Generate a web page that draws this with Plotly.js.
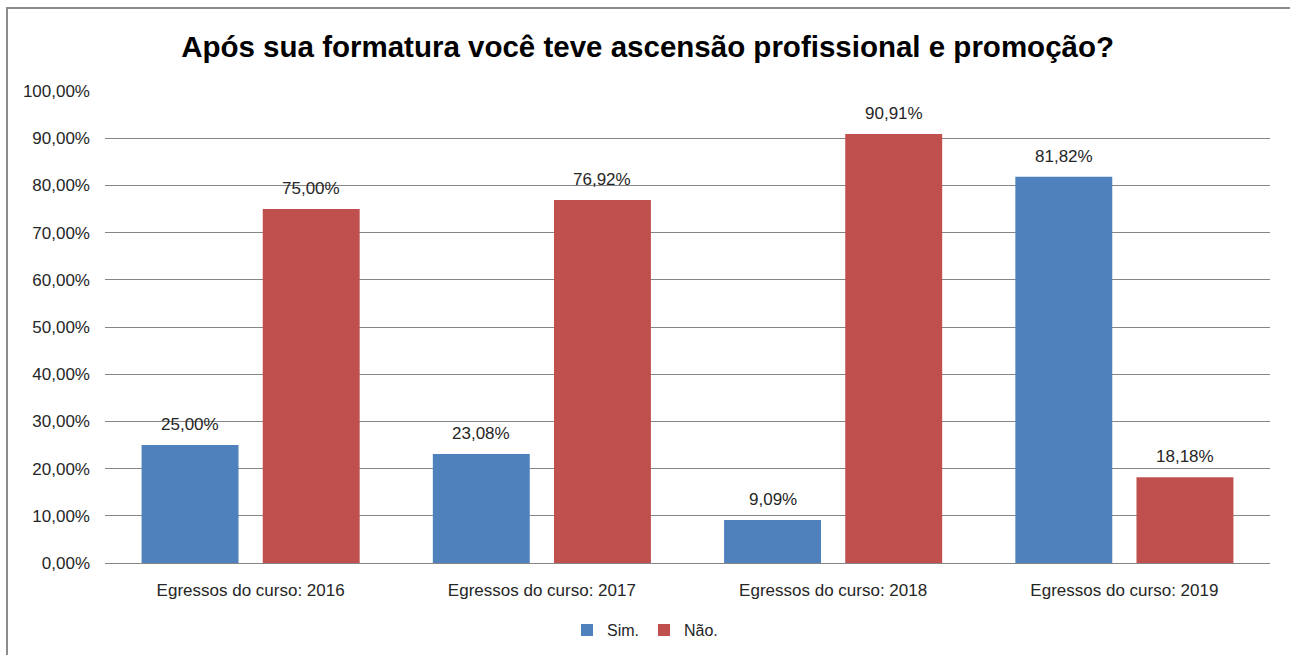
<!DOCTYPE html>
<html>
<head>
<meta charset="utf-8">
<script src="https://cdn.plot.ly/plotly-3.0.1.min.js"></script>
<style>
html,body{margin:0;padding:0;background:#fff;}
#wrap{position:relative;width:1290px;height:655px;overflow:hidden;}
#chart{position:absolute;left:0;top:0;width:1290px;height:655px;}
#frame{position:absolute;left:6px;top:7px;width:1300px;height:700px;border-left:2px solid #8c8c8c;border-top:2px solid #8c8c8c;pointer-events:none;}
</style>
</head>
<body>
<div id="wrap"><div id="chart"></div><div id="frame"></div></div>
<script>
const categories = ["Egressos do curso: 2016","Egressos do curso: 2017","Egressos do curso: 2018","Egressos do curso: 2019"];
const simValues = [0.25, 0.2308, 0.0909, 0.8182];
const naoValues = [0.75, 0.7692, 0.9091, 0.1818];
const seriesNames = ["Sim.", "Não."];
const yTicks = [0,0.1,0.2,0.3,0.4,0.5,0.6,0.7,0.8,0.9,1.0];

const FONT = "Liberation Sans, Arial, sans-serif";
const bargap = 0.168;
const groupgap = 0.2;

const traces = [
  {type:'bar', name:seriesNames[0], x:categories, y:simValues, marker:{color:'#4F81BD'}, hoverinfo:'y'},
  {type:'bar', name:seriesNames[1], x:categories, y:naoValues, marker:{color:'#C0504D'}, hoverinfo:'y'}
];

const off = (1-bargap)/4;
const annotations = [];
[simValues, naoValues].forEach((vals, s) => {
  vals.forEach((v, i) => {
    annotations.push({
      xref:'x', yref:'y', x: i + (s===0 ? -off : off), y: v,
      text: (v*100).toFixed(2).replace('.', ',') + '%',
      showarrow:false, yanchor:'bottom', yshift:9,
      font:{family:FONT, size:17, color:'#262626'}
    });
  });
});

const layout = {
  width:1290, height:655,
  margin:{l:105, r:20, t:91, b:92},
  paper_bgcolor:'#ffffff', plot_bgcolor:'#ffffff',
  separators:',.',
  barmode:'group', bargap:bargap, bargroupgap:groupgap,
  title:{text:'<b>Após sua formatura você teve ascensão profissional e promoção?</b>',
    font:{family:FONT, size:29.5, color:'#000000'}, x:0.502, xanchor:'center', y:0.928, yanchor:'middle'},
  xaxis:{type:'category', showgrid:false, showline:true, linecolor:'#868686', linewidth:1, automargin:false,
    ticks:'', ticklabelstandoff:12, tickfont:{family:FONT, size:17, color:'#262626'}},
  yaxis:{range:[0,1], tickvals:yTicks, tickformat:'.2%', showgrid:true, gridcolor:'#868686', gridwidth:1, automargin:false,
    zeroline:false, showline:false, ticks:'', ticklabelstandoff:14,
    tickfont:{family:FONT, size:17, color:'#262626'}},
  showlegend:true,
  legend:{orientation:'h', xref:'container', yref:'container', x:0.5, xanchor:'center', y:0.038, yanchor:'middle',
    font:{family:FONT, size:16, color:'#262626'}, itemwidth:30, traceorder:'normal'},
  annotations:annotations
};

Plotly.newPlot('chart', traces, layout, {displayModeBar:false, staticPlot:true});
</script>
</body>
</html>
